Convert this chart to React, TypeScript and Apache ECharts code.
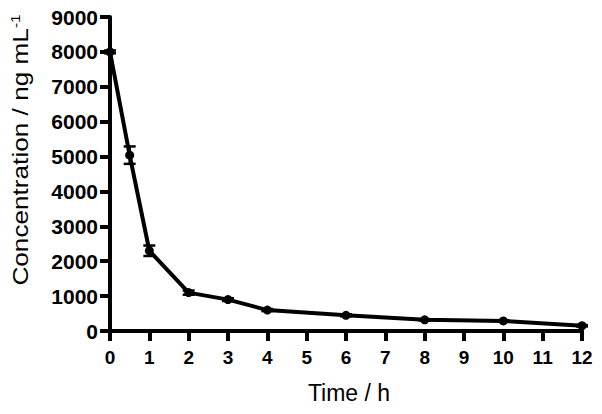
import React, { useEffect, useRef } from "react";
import * as echarts from "echarts";

const times = [0, 0.5, 1, 2, 3, 4, 6, 8, 10, 12];
const concentration = [8000, 5040, 2300, 1100, 900, 600, 450, 320, 290, 150];
const errors = [40, 250, 150, 60, 40, 30, 30, 20, 20, 20];
const xTicks = [0, 1, 2, 3, 4, 5, 6, 7, 8, 9, 10, 11, 12];
const yTicks = [0, 1000, 2000, 3000, 4000, 5000, 6000, 7000, 8000, 9000];

const FONT = "'Liberation Sans', Arial, sans-serif";

export default function App() {
  const ref = useRef<HTMLDivElement>(null);
  useEffect(() => {
    if (!ref.current) return;
    const chart = echarts.init(ref.current, undefined, { renderer: "svg" });
    const lineData = times.map((t, i) => [t, concentration[i]]);
    const errData = times.map((t, i) => [t, concentration[i] - errors[i], concentration[i] + errors[i]]);
    chart.setOption({
      animation: false,
      backgroundColor: "#ffffff",
      grid: { left: 110, right: 20, top: 17, bottom: 83 },
      xAxis: {
        type: "value",
        min: xTicks[0],
        max: xTicks[xTicks.length - 1],
        interval: 1,
        axisLine: { show: true, lineStyle: { color: "#000", width: 4 } },
        axisTick: { show: true, length: 10, lineStyle: { color: "#000", width: 4 } },
        axisLabel: { color: "#000", fontFamily: FONT, fontWeight: "bold", fontSize: 19, margin: 17 },
        splitLine: { show: false },
      },
      yAxis: {
        type: "value",
        min: yTicks[0],
        max: yTicks[yTicks.length - 1],
        interval: 1000,
        axisLine: { show: true, lineStyle: { color: "#000", width: 4 } },
        axisTick: { show: true, length: 10, lineStyle: { color: "#000", width: 4 } },
        axisLabel: {
          color: "#000",
          fontFamily: FONT,
          fontWeight: "bold",
          fontSize: 21,
          margin: 12,
          formatter: (v: number) => String(v),
        },
        splitLine: { show: false },
      },
      graphic: [
        {
          type: "text",
          x: 20,
          y: 150,
          rotation: Math.PI / 2,
          scaleX: 1.19,
          style: {
            text: "Concentration / ng mL{sup|-1}",
            fill: "#000",
            fontFamily: FONT,
            fontSize: 22,
            align: "center",
            verticalAlign: "middle",
            rich: {
              sup: { fontSize: 13, fontFamily: FONT, verticalAlign: "top", fill: "#000" },
            },
          },
        },
        {
          type: "text",
          x: 349,
          y: 393,
          style: {
            text: "Time / h",
            fill: "#000",
            fontFamily: FONT,
            fontSize: 23,
            align: "center",
            verticalAlign: "middle",
          },
        },
      ],
      series: [
        {
          type: "line",
          data: lineData,
          symbol: "circle",
          symbolSize: 9,
          lineStyle: { color: "#000", width: 4 },
          itemStyle: { color: "#000" },
          z: 3,
        },
        {
          type: "custom",
          data: errData,
          z: 4,
          renderItem: (params: any, api: any) => {
            const x = api.value(0);
            const lo = api.coord([x, api.value(1)]);
            const hi = api.coord([x, api.value(2)]);
            const w = 6;
            const style = { stroke: "#000", lineWidth: 2.5 };
            return {
              type: "group",
              children: [
                { type: "line", shape: { x1: lo[0], y1: lo[1], x2: hi[0], y2: hi[1] }, style },
                { type: "line", shape: { x1: lo[0] - w, y1: lo[1], x2: lo[0] + w, y2: lo[1] }, style },
                { type: "line", shape: { x1: hi[0] - w, y1: hi[1], x2: hi[0] + w, y2: hi[1] }, style },
              ],
            };
          },
        },
      ],
    });
    return () => chart.dispose();
  }, []);
  return <div ref={ref} style={{ width: 602, height: 414, position: "absolute", left: 0, top: 0 }} />;
}
